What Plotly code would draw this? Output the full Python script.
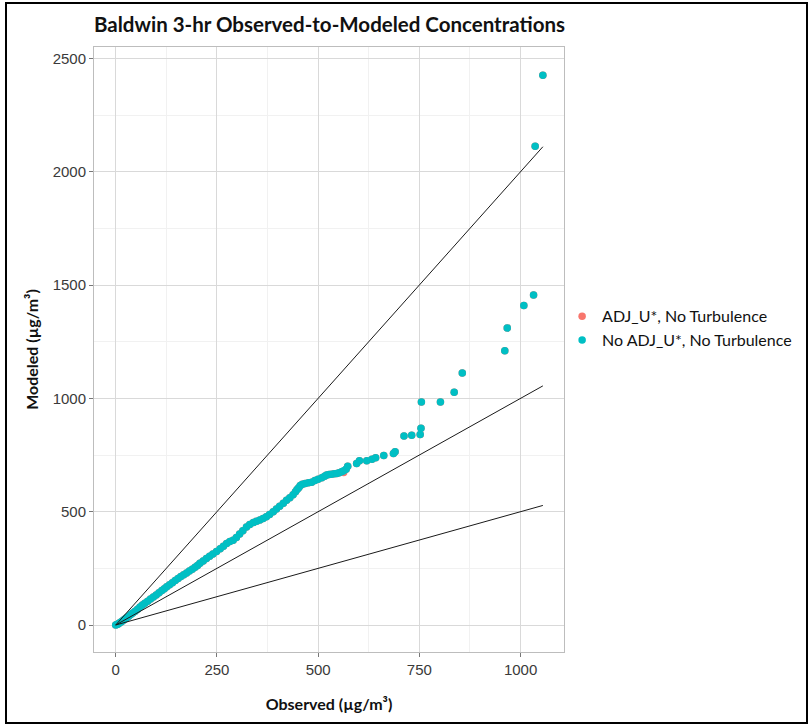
import plotly.graph_objects as go

# Quantile pairs (sorted observed vs sorted modeled), µg/m³
observed = [0, 3, 6, 10, 14, 18, 22, 27, 32, 37,
            42, 48, 54, 60, 66, 72, 79, 86, 93, 100,
            107, 114, 120, 126, 133, 140, 147, 154, 161, 168,
            175, 182, 189, 196, 202, 208, 216, 224, 232, 240,
            249, 258, 266, 274, 282, 290, 298, 306, 314, 323,
            331, 340, 348, 356, 364, 372, 380, 389, 397, 405,
            414, 422, 430, 438, 444, 448, 452, 456, 461, 468,
            476, 484, 492, 500, 509, 516, 521, 527, 533, 540,
            546, 552, 558, 563, 569, 573, 595, 602, 620, 633,
            642, 662, 686, 690, 712, 731, 752, 754, 755, 802,
            836, 856, 961, 967, 1008, 1032, 1036, 1055]

modeled_no_adj = [0, 2, 5, 10, 15, 20, 26, 32, 39, 46,
                  53, 61, 70, 80, 88, 96, 105, 115, 124, 133,
                  142, 152, 160, 169, 178, 187, 196, 205, 214, 222,
                  230, 238, 246, 255, 263, 272, 283, 293, 303, 313,
                  324, 336, 348, 360, 368, 374, 386, 402, 416, 432,
                  444, 452, 458, 463, 470, 478, 488, 500, 512, 524,
                  537, 550, 562, 575, 588, 598, 606, 616, 621, 624,
                  628, 630, 638, 643, 650, 656, 662, 664, 665, 667,
                  669, 672, 676, 681, 687, 701, 713, 725, 725, 731,
                  738, 748, 757, 764, 834, 837, 841, 868, 984, 984,
                  1027, 1112, 1210, 1310, 1410, 1456, 2112, 2425]

modeled_adj = [0, 2, 5, 10, 15, 20, 26, 32, 39, 46,
               53, 61, 70, 80, 88, 96, 105, 115, 124, 133,
               142, 152, 160, 169, 178, 187, 196, 205, 214, 222,
               230, 238, 246, 255, 263, 272, 283, 293, 303, 313,
               324, 336, 348, 360, 368, 374, 386, 402, 416, 432,
               444, 452, 458, 463, 470, 478, 488, 500, 512, 524,
               537, 550, 562, 575, 588, 598, 606, 616, 621, 624,
               628, 630, 638, 643, 650, 656, 662, 664, 665, 667,
               669, 672, 676, 673, 687, 701, 713, 725, 725, 731,
               738, 748, 757, 764, 834, 837, 841, 868, 984, 984,
               1027, 1112, 1210, 1310, 1410, 1456, 2112, 2425]

# Reference ratio lines (2:1, 1:1, 1:2)
ratios = [2.0, 1.0, 0.5]

x_ticks = [0, 250, 500, 750, 1000]
y_ticks = [0, 500, 1000, 1500, 2000, 2500]

series_names = ["ADJ_U*, No Turbulence", "No ADJ_U*, No Turbulence"]
series_colors = ["#F8766D", "#00BFC4"]

fig = go.Figure()

for name, color, mod in zip(series_names, series_colors, [modeled_adj, modeled_no_adj]):
    fig.add_trace(go.Scatter(
        x=observed, y=mod, mode="markers", name=name,
        marker=dict(color=color, size=7.5, line=dict(width=0)),
    ))

x_end = max(observed)
for r in ratios:
    fig.add_trace(go.Scatter(
        x=[0, x_end], y=[0, r * x_end], mode="lines",
        line=dict(color="#1a1a1a", width=1), showlegend=False, hoverinfo="skip",
    ))

tick_font = dict(family="Liberation Sans, Arial, sans-serif", size=15, color="#3a3a3a")
title_font = dict(family="Lato, sans-serif", size=16, color="#111111")

axis_common = dict(
    showgrid=True, gridcolor="#d9d9d9", gridwidth=1,
    zeroline=False,
    showline=True, mirror=True, linecolor="#bdbdbd", linewidth=1,
    ticks="outside", ticklen=4, tickcolor="#777777", tickwidth=1,
    tickfont=tick_font,
)

fig.update_layout(
    width=809, height=725,
    margin=dict(l=94, r=245, t=47, b=73, autoexpand=False),
    paper_bgcolor="white", plot_bgcolor="white",
    title=dict(
        text="<b>Baldwin 3-hr Observed-to-Modeled Concentrations</b>",
        font=dict(family="Lato, sans-serif", size=20.5, color="#111111"),
        x=0, xref="paper", xanchor="left",
        y=1, yref="container", yanchor="top", pad=dict(t=18),
    ),
    xaxis=dict(
        range=[-53.6, 1107.2], tickvals=x_ticks,
        minor=dict(showgrid=True, gridcolor="#f1f1f1", dtick=125, tick0=0, ticks=""),
        title=dict(text="<b>Observed (µg/m³)</b>", font=title_font, standoff=21),
        **axis_common,
    ),
    yaxis=dict(
        range=[-119, 2550], tickvals=y_ticks,
        minor=dict(showgrid=True, gridcolor="#f1f1f1", dtick=250, tick0=0, ticks=""),
        title=dict(text="<b>Modeled (µg/m³)</b>", font=title_font, standoff=10),
        **axis_common,
    ),
    legend=dict(
        x=0.996, y=0.535, xanchor="left", yanchor="middle",
        font=dict(family="Lato, sans-serif", size=16, color="#111111"),
        itemsizing="trace", bgcolor="rgba(0,0,0,0)",
    ),
    shapes=[dict(
        type="rect", xref="paper", yref="paper",
        x0=(6 - 94) / 470, x1=(807 - 94) / 470,
        y0=(652 - 723) / 605, y1=(652 - 3) / 605,
        line=dict(color="black", width=2), fillcolor="rgba(0,0,0,0)", layer="above",
    )],
)

fig.write_html("out.html")
